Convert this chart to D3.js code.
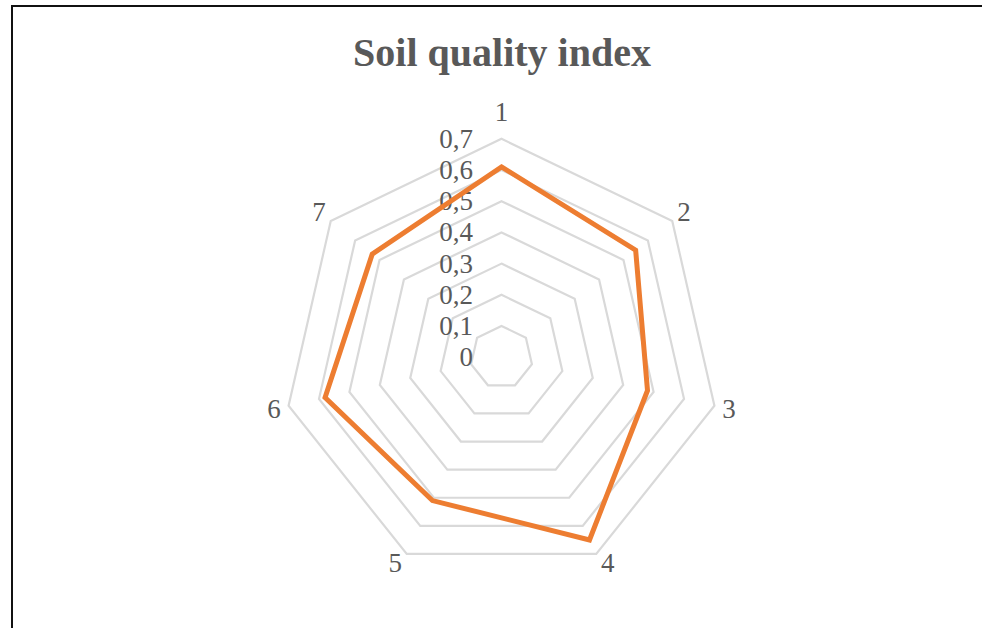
<!DOCTYPE html>
<html><head><meta charset="utf-8">
<script src="https://cdn.jsdelivr.net/npm/d3@7"></script>
<style>html,body{margin:0;padding:0;background:#fff;}svg{display:block;}</style>
</head><body>
<svg id="chart" width="982" height="628"></svg>
<script>
const categories = ["1","2","3","4","5","6","7"];
const values = [0.61, 0.55, 0.48, 0.65, 0.51, 0.58, 0.53];
const tickValues = [0, 0.1, 0.2, 0.3, 0.4, 0.5, 0.6, 0.7];
const tickLabels = ["0","0,1","0,2","0,3","0,4","0,5","0,6","0,7"];
const title = "Soil quality index";

const svg = d3.select("#chart");
const cx = 501.5, cy = 357.2, R = 218.4;
const font = "'Liberation Serif','Times New Roman',serif";
const textColor = "#595959";

svg.append("rect").attr("width",982).attr("height",628).attr("fill","#fff");
svg.append("rect").attr("x",12).attr("y",6).attr("width",1100).attr("height",800)
  .attr("fill","none").attr("stroke","#111").attr("stroke-width",2);

svg.append("text").attr("x",502).attr("y",66).attr("text-anchor","middle")
  .attr("font-family",font).attr("font-weight","bold").attr("font-size",40)
  .attr("fill",textColor).text(title);

const r = d3.scaleLinear().domain([0,0.7]).range([0,R]);
const angle = d3.scalePoint().domain(categories).range([0, 2*Math.PI*(categories.length-1)/categories.length]);
const pt = (cat, v) => [cx + r(v)*Math.sin(angle(cat)), cy - r(v)*Math.cos(angle(cat))];

const g = svg.append("g");
// rings
tickValues.filter(t => t > 0).forEach(t => {
  g.append("path")
    .attr("d", d3.line()(categories.map(c => pt(c,t))) + "Z")
    .attr("fill","none").attr("stroke","#d9d9d9").attr("stroke-width",2.2);
});

// tick labels
tickValues.forEach((t,i) => {
  svg.append("text").attr("x",473).attr("y", cy - r(t) + 9)
    .attr("text-anchor","end").attr("font-family",font).attr("font-size",27)
    .attr("fill",textColor).text(tickLabels[i]);
});

// category labels
categories.forEach((c,i) => {
  const a = angle(c);
  const d = i === 0 ? 27 : 15;
  const [vx, vy] = pt(c, 0.7);
  const lx = vx + d*Math.sin(a) + (i === 3 ? 5 : i === 4 ? -5 : 0);
  const ly = vy - d*Math.cos(a) + (i === 3 || i === 4 ? -4 : 0);
  svg.append("text").attr("x",lx).attr("y",ly + 9).attr("text-anchor","middle")
    .attr("font-family",font).attr("font-size",27).attr("fill",textColor).text(c);
});

// series
svg.append("path")
  .attr("d", d3.line()(categories.map((c,i) => pt(c, values[i]))) + "Z")
  .attr("fill","none").attr("stroke","#ED7D31").attr("stroke-width",5)
  .attr("stroke-linejoin","miter");
</script>
</body></html>
